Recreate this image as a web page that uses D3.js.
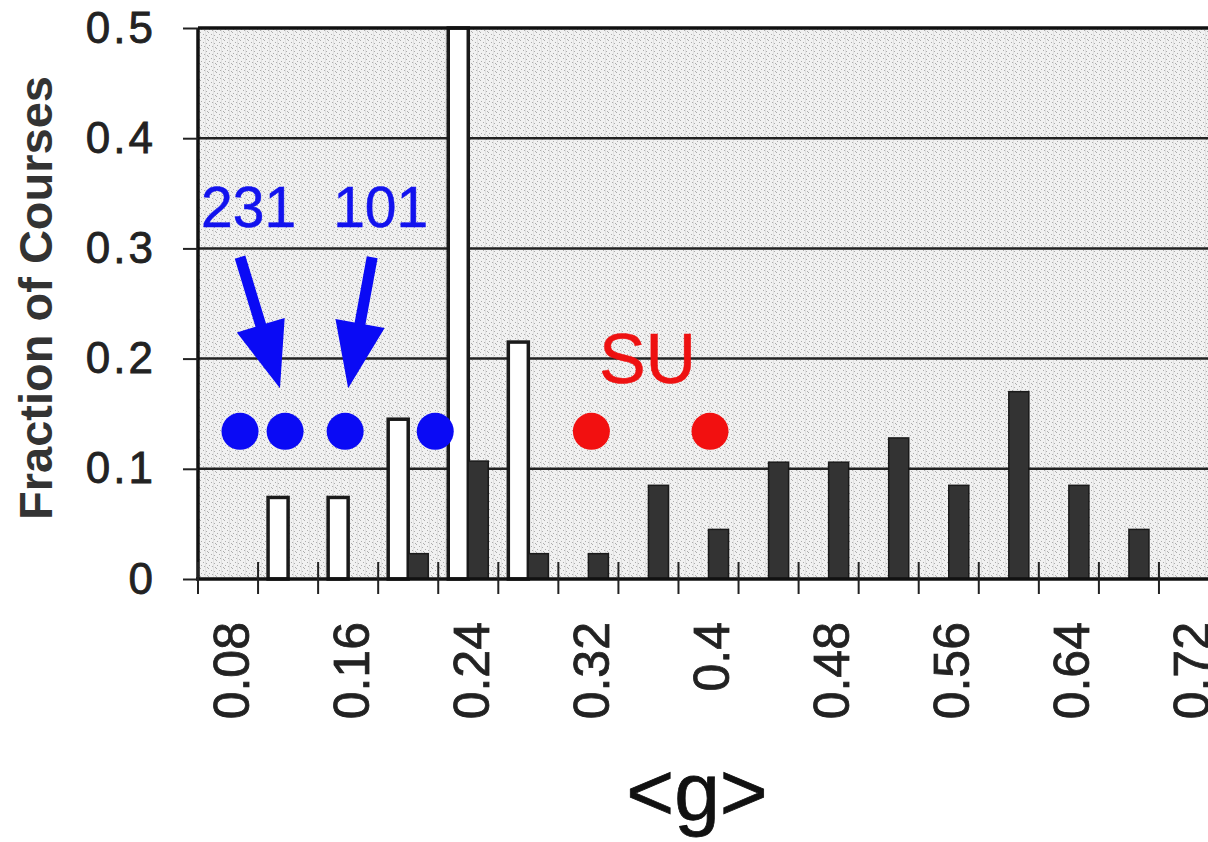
<!DOCTYPE html>
<html>
<head>
<meta charset="utf-8">
<script src="https://cdn.jsdelivr.net/npm/d3@7"></script>
<style>
  html, body { margin: 0; padding: 0; background: #fff; }
  svg { display: block; font-family: "Liberation Sans", Arial, sans-serif; }
</style>
</head>
<body>
<div id="chart"></div>
<script>
// histogram of normalized gain <g>, two course populations
const categories = ['0.08','0.12','0.16','0.20','0.24','0.28','0.32','0.36','0.40',
                    '0.44','0.48','0.52','0.56','0.60','0.64','0.68','0.72'];
const shownLabels = ['0.08','0.16','0.24','0.32','0.4','0.48','0.56','0.64','0.72'];
const openBars   = [0, 0.074, 0.074, 0.145, 0.5, 0.215, 0, 0, 0, 0, 0, 0, 0, 0, 0, 0, 0];
const filledBars = [0, 0, 0, 0.023, 0.107, 0.023, 0.023, 0.085, 0.045, 0.106, 0.106, 0.128, 0.085, 0.17, 0.085, 0.045, 0];
const yTicks = [0, 0.1, 0.2, 0.3, 0.4, 0.5];
const gridLevels = [0.1, 0.2, 0.3, 0.4];

// annotation marks, in data units (<g>, fraction)
const blueDots = [0.088, 0.118, 0.158, 0.218];
const redDots = [0.322, 0.401];
const dotLevel = 0.134;
const arrows = [
  { from: [0.088, 0.292], to: [0.1146, 0.173] },
  { from: [0.176, 0.292], to: [0.160, 0.173] }
];
const notes = [
  { text: '231', g: 0.062, y: 0.319, color: '#1212ee', size: 57 },
  { text: '101', g: 0.150, y: 0.319, color: '#1212ee', size: 57 },
  { text: 'SU', g: 0.327, y: 0.178, color: '#ee1111', size: 70 }
];

const W = 1208, H = 842;
const mLeft = 198, mTop = 28, mBottom = 579, catW = 60.06;
const mRight = mLeft + catW * categories.length;

const svg = d3.select('#chart').append('svg').attr('width', W).attr('height', H);

// stipple texture for the plot area
const defs = svg.append('defs');
const pat = defs.append('pattern').attr('id', 'stip').attr('patternUnits', 'userSpaceOnUse')
  .attr('width', 8).attr('height', 8);
pat.append('rect').attr('width', 8).attr('height', 8).attr('fill', '#f1f1f1');
pat.append('rect').attr('x', 5).attr('y', 0).attr('width', 1).attr('height', 8).attr('fill', '#e2e2e2');
[[0,0],[3,2],[6,3],[1,5],[4,6],[7,7]].forEach(p => {
  pat.append('rect').attr('x', p[0]).attr('y', p[1]).attr('width', 1).attr('height', 1).attr('fill', '#adadad');
});

const x = d3.scaleBand().domain(categories).range([mLeft, mRight]).padding(0);
const sub = d3.scaleBand().domain(['open', 'filled']).range([0, x.bandwidth()]).paddingInner(0).paddingOuter(0.5);
const xg = d3.scaleLinear().domain([0.06, 0.74]).range([mLeft, mRight]);
const y = d3.scaleLinear().domain([0, 0.5]).range([mBottom, mTop]);

svg.append('rect').attr('x', mLeft).attr('y', mTop).attr('width', mRight - mLeft).attr('height', mBottom - mTop)
  .attr('fill', 'url(#stip)');

// gridlines
svg.append('g').selectAll('line').data(gridLevels).join('line')
  .attr('x1', mLeft).attr('x2', mRight).attr('y1', d => y(d)).attr('y2', d => y(d))
  .attr('stroke', '#222').attr('stroke-width', 2.5);

// bars
const bars = svg.append('g');
bars.selectAll('rect.open').data(categories).join('rect').attr('class', 'open')
  .attr('x', d => x(d) + sub('open')).attr('width', sub.bandwidth())
  .attr('y', (d, i) => y(openBars[i])).attr('height', (d, i) => y(0) - y(openBars[i]))
  .attr('fill', '#fff').attr('stroke', '#1a1a1a').attr('stroke-width', 3.5)
  .style('display', (d, i) => openBars[i] > 0 ? null : 'none');
bars.selectAll('rect.filled').data(categories).join('rect').attr('class', 'filled')
  .attr('x', d => x(d) + sub('filled')).attr('width', sub.bandwidth())
  .attr('y', (d, i) => y(filledBars[i])).attr('height', (d, i) => y(0) - y(filledBars[i]))
  .attr('fill', '#333').attr('stroke', '#1a1a1a').attr('stroke-width', 1.5)
  .style('display', (d, i) => filledBars[i] > 0 ? null : 'none');

// frame: top and left borders, bottom axis
svg.append('line').attr('x1', mLeft).attr('x2', mRight).attr('y1', mTop).attr('y2', mTop)
  .attr('stroke', '#111').attr('stroke-width', 3.5);
svg.append('line').attr('x1', mLeft).attr('x2', mLeft).attr('y1', mTop).attr('y2', mBottom)
  .attr('stroke', '#111').attr('stroke-width', 3.5);
svg.append('line').attr('x1', mLeft - 2).attr('x2', mRight).attr('y1', mBottom).attr('y2', mBottom)
  .attr('stroke', '#111').attr('stroke-width', 3.5);

// y axis ticks + labels
const yAxis = svg.append('g').attr('transform', `translate(${mLeft},0)`)
  .call(d3.axisLeft(y).tickValues(yTicks).tickSize(15).tickPadding(30)
    .tickFormat(d => d === 0 ? '0' : d.toFixed(1)));
yAxis.select('.domain').remove();
yAxis.selectAll('line').attr('stroke', '#222').attr('stroke-width', 2);
yAxis.selectAll('text').attr('font-size', 44).attr('letter-spacing', 3).attr('fill', '#222')
  .attr('stroke', '#222').attr('stroke-width', 0.8).attr('dx', 3);

// x axis: tick marks at bin boundaries, labels on every other bin
const bounds = d3.range(categories.length + 1).map(i => 0.06 + i * 0.04);
svg.append('g').selectAll('line').data(bounds).join('line')
  .attr('x1', d => xg(d)).attr('x2', d => xg(d)).attr('y1', mBottom - 17).attr('y2', mBottom + 15)
  .attr('stroke', '#222').attr('stroke-width', 2);

svg.append('g').selectAll('text').data(categories.filter((d, i) => i % 2 === 0)).join('text')
  .attr('transform', d => `translate(${x(d) + x.bandwidth() / 2 + 3},622) rotate(-90)`)
  .attr('text-anchor', 'end').attr('dy', '0.35em')
  .attr('font-size', 50).attr('fill', '#222').attr('stroke', '#222').attr('stroke-width', 0.8)
  .text((d, i) => shownLabels[i]);

// axis titles
svg.append('text').attr('transform', 'translate(52,298) rotate(-90)')
  .attr('text-anchor', 'middle').attr('font-weight', 'bold').attr('font-size', 47).attr('fill', '#333')
  .text('Fraction of Courses');
svg.append('text').attr('x', 697).attr('y', 820).attr('text-anchor', 'middle')
  .attr('font-size', 82).attr('fill', '#111').attr('stroke', '#111').attr('stroke-width', 0.8)
  .text('<g>');

// annotations
const ann = svg.append('g');
ann.selectAll('circle.blue').data(blueDots).join('circle').attr('class', 'blue')
  .attr('cx', d => xg(d)).attr('cy', y(dotLevel)).attr('r', 18.5).attr('fill', '#0a0af5');
ann.selectAll('circle.red').data(redDots).join('circle').attr('class', 'red')
  .attr('cx', d => xg(d)).attr('cy', y(dotLevel)).attr('r', 18.5).attr('fill', '#f21010');

function arrowPath(a) {
  const x1 = xg(a.from[0]), y1 = y(a.from[1]), x2 = xg(a.to[0]), y2 = y(a.to[1]);
  const len = Math.hypot(x2 - x1, y2 - y1), ux = (x2 - x1) / len, uy = (y2 - y1) / len;
  const nx = -uy, ny = ux, sw = 5.5, hw = 25, hl = 66;
  const bx = x2 - ux * hl, by = y2 - uy * hl;
  const pts = [
    [x1 + nx * sw, y1 + ny * sw], [bx + nx * sw, by + ny * sw], [bx + nx * hw, by + ny * hw],
    [x2, y2], [bx - nx * hw, by - ny * hw], [bx - nx * sw, by - ny * sw], [x1 - nx * sw, y1 - ny * sw]
  ];
  return 'M' + pts.map(p => p.join(',')).join('L') + 'Z';
}
ann.selectAll('path').data(arrows).join('path').attr('d', arrowPath).attr('fill', '#0a0af5');

ann.selectAll('text').data(notes).join('text')
  .attr('x', d => xg(d.g)).attr('y', d => y(d.y))
  .attr('font-size', d => d.size).attr('fill', d => d.color)
  .attr('stroke', d => d.color).attr('stroke-width', 0.5)
  .text(d => d.text);
</script>
</body>
</html>
